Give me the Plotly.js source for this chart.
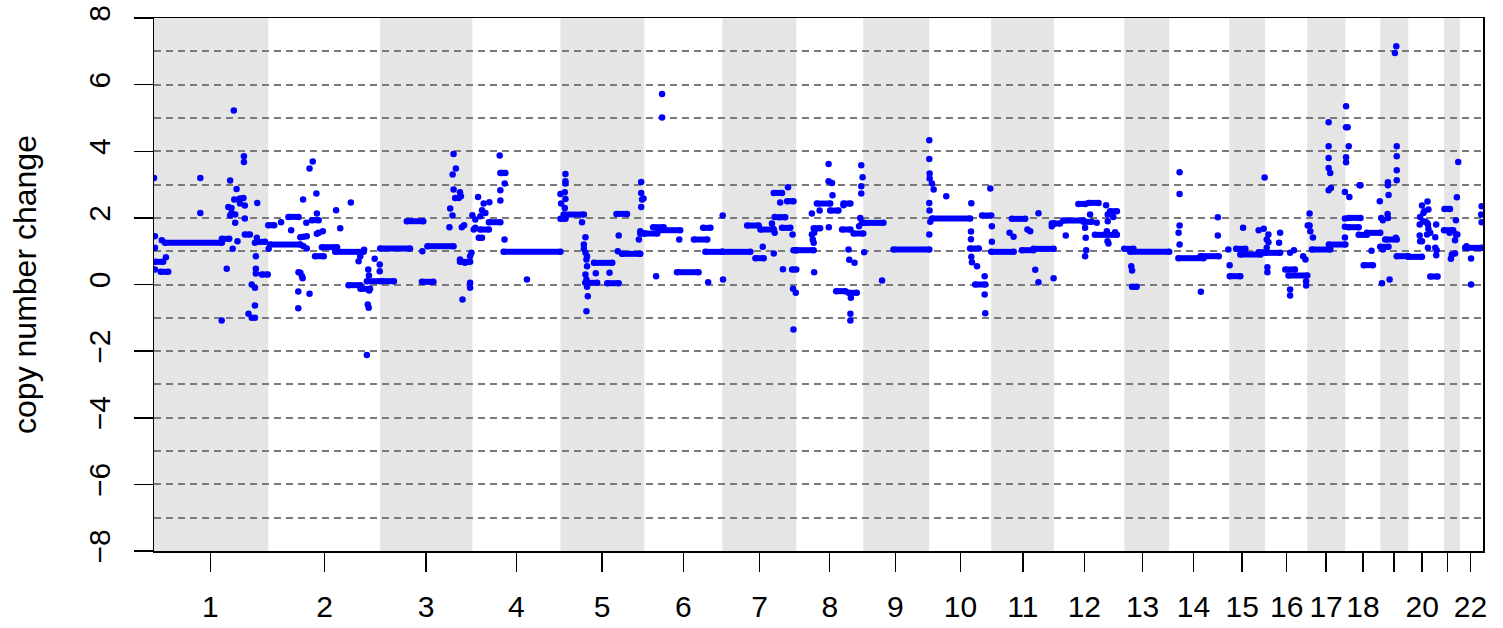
<!DOCTYPE html>
<html>
<head>
<meta charset="utf-8">
<script src="https://cdn.plot.ly/plotly-3.0.1.min.js"></script>
<style>html,body{margin:0;padding:0;background:#fff;}#chart{width:1503px;height:628px;}</style>
</head>
<body>
<div id="chart"></div>
<script>
// Chromosome lengths (Mb, probe span) and tick positions (Mb from chromosome start)
const chrLengths = [249,244,201,192,183,170,161,146,144,135,137,153,98,131,78,92,83,76,61,78,35,50];
const chrTickPos = [123,123,100,96,91,85,81,73,70,68,69,66,40,53,28,47,41,38.5,30.5,30.5,8,22.5];
const chrTickLabels = ['1','2','3','4','5','6','7','8','9','10','11','12','13','14','15','16','17','18','','20','','22'];

// Segments: [chromosome, start Mb, end Mb, copy number change]
const segments = [
 [1,2,20,0.68],[1,14.5,31,0.38],[1,24,148,1.25],[1,148,164,1.37],[1,198,209,1.5],[1,227,242,1.28],[1,235,248,0.3],
 [2,0,13,1.78],[2,4,70,1.2],[2,44,66,2.03],[2,95,110,1.93],[2,117,150,1.12],[2,102,121,0.85],[2,146,208,0.98],[2,175,201,-0.02],[2,201,222,-0.13],[2,215,244,0.1],
 [3,5,30,0.1],[3,0,65,1.08],[3,58,94,1.9],[3,91,116,0.08],[3,103,160,1.15],[3,174,196,0.68],
 [4,14,21,1.4],[4,17,36,1.65],[4,36,61,1.87],[4,61,72,3.35],[4,68,192,0.98],
 [5,0,11,1.97],[5,7,51,2.1],[5,54,80,0.05],[5,73,113,0.65],[5,102,127,0.04],[5,122,145,2.12],[5,134,174,0.92],[5,174,183,1.53],
 [6,0,28,1.53],[6,19,42,1.72],[6,31,78,1.63],[6,71,118,0.37],[6,108,137,1.35],[6,128,144,1.7],[6,133,170,0.98],
 [7,0,61,0.98],[7,54,79,1.77],[7,83,112,1.65],[7,72,90,0.79],[7,112,130,2.75],[7,141,155,2.5],[7,123,137,2.02],[7,130,148,1.7],[7,152,161,0.45],[7,155,161,1.03],
 [8,0,38,1.03],[8,45,74,2.43],[8,38,52,1.69],[8,74,92,2.22],[8,100,118,1.65],[8,103,118,2.43],[8,87,107,-0.2],[8,114,132,-0.25],[8,125,146,1.53],[8,143,146,1.85],
 [9,0,44,1.85],[9,66,144,1.05],
 [10,6,89,1.98],[10,89,108,1.08],[10,100,122,0.0],[10,115,135,2.07],
 [11,0,49,0.98],[11,45,74,1.97],[11,67,92,1.03],[11,92,136,1.07],[11,132,137,1.83],
 [12,0,13,1.83],[12,20,64,1.92],[12,64,82,1.88],[12,53,68,2.42],[12,75,97,2.45],[12,89,137,1.49],[12,122,137,2.2],
 [13,0,20,1.07],[13,13,98,0.98],[13,17,27,-0.07],
 [14,20,75,0.79],[14,68,108,0.85],
 [15,1,24,0.25],[15,15,35,1.07],[15,24,68,0.9],[15,64,78,0.97],
 [16,0,33,0.95],[16,44,65,0.45],[16,51,92,0.27],
 [17,10,50,1.05],[17,47,83,1.2],
 [18,7,33,2.0],[18,7,29,1.72],[18,29,47,1.49],[18,40,60,0.58],[18,47,76,1.55],
 [19,0,18,1.13],[19,11,36,1.35],[19,36,61,0.85],
 [20,0,30,0.83],[20,48,64,0.24],
 [21,1,13,2.27],[21,0,20,1.63],
 [22,11,47,1.1]
];

// Individual probes: [chromosome, position Mb, copy number change]
const points = [
 [1,0,3.2],[1,2,1.45],[1,2,1.1],[1,2,0.45],[1,17,1.33],[1,26,0.82],[1,101,3.2],[1,101,2.15],[1,147.5,-1.08],[1,158.5,0.47],[1,174,5.22],[1,166,3.12],[1,162,2.33],[1,169,2.3],[1,175,2.55],[1,180,2.87],[1,184,2.55],[1,187.5,2.58],[1,195,2.6],[1,187.5,2.43],[1,198,2.37],[1,169,2.15],[1,177,2.1],[1,166,2.07],[1,177,1.85],[1,198,1.98],[1,196,3.85],[1,196,3.68],[1,171.5,1.07],[1,182,1.3],[1,213,0.0],[1,220,-0.1],[1,220,-0.63],[1,206,-0.88],[1,213,-1.0],[1,220,-1.0],[1,225,2.45],[1,224,1.4],[1,220,1.25],[1,222,0.85],[1,222,0.47],[1,222,0.33],
 [2,1,1.07],[2,28,1.87],[2,50,1.63],[2,76,2.55],[2,90,3.48],[2,97,3.69],[2,105,2.73],[2,106,2.13],[2,83,1.85],[2,110,1.55],[2,119,1.6],[2,106,1.52],[2,70,1.42],[2,77,1.43],[2,84,1.45],[2,77,1.15],[2,84,1.08],[2,66,0.37],[2,70,0.35],[2,73.5,0.25],[2,75,0.19],[2,65.5,-0.21],[2,65.5,-0.71],[2,90,-0.28],[2,148,2.23],[2,157,1.69],[2,180,2.46],[2,209,1.04],[2,200.6,0.85],[2,197,0.7],[2,232,0.77],[2,218,0.45],[2,219.5,0.27],[2,243,0.6],[2,243,0.4],[2,220,-0.18],[2,217,-0.6],[2,219,-0.7],[2,215,-2.12],
 [3,92,1.0],[3,160,3.92],[3,165,3.48],[3,158,3.3],[3,160,2.85],[3,174,2.77],[3,176,2.65],[3,163.5,2.6],[3,171,2.6],[3,152.6,2.28],[3,157.7,2.07],[3,151,1.72],[3,178,1.72],[3,183,1.78],[3,196,0.05],[3,196,-0.1],[3,179.5,-0.45],[3,199,0.95],[3,196,0.85],[3,174,0.75],[3,185,0.65],
 [4,12.4,2.63],[4,37,2.47],[4,24.7,2.43],[4,21,2.23],[4,28.3,2.15],[4,17.4,2.05],[4,6.5,1.95],[4,0,2.08],[4,3,1.65],[4,6.5,1.7],[4,64.7,3.35],[4,59.6,3.87],[4,70.5,3.03],[4,61,2.83],[4,61,2.52],[4,70,1.35],[4,119,0.15],
 [5,10.9,3.32],[5,10.9,3.1],[5,10.9,3.03],[5,0,2.72],[5,9.5,2.77],[5,10.9,2.57],[5,1.5,2.43],[5,9.5,2.3],[5,47,1.87],[5,54.5,1.42],[5,51,1.2],[5,51,1.07],[5,54.5,0.95],[5,58,0.85],[5,56.7,0.75],[5,58,0.55],[5,54.5,0.3],[5,56.7,0.15],[5,58,-0.07],[5,59.6,-0.35],[5,56.7,-0.8],[5,77,0.34],[5,107,0.35],[5,127,1.47],[5,125,1.0],[5,176,3.08],[5,176,2.75],[5,178,2.55],[5,181,2.58],[5,176,2.33],[5,174,1.6],[5,171,1.35],
 [6,38.5,5.72],[6,38.5,5.01],[6,25.5,0.25],[6,76,1.35],[6,139,0.07],
 [7,0.7,2.07],[7,1.4,0.15],[7,108,1.83],[7,110.5,1.67],[7,114,1.55],[7,88,1.13],[7,112,0.93],[7,126,2.46],[7,143,2.92],[7,114,2.03],[7,153,1.5],[7,132,0.46],[7,154,-0.13],[7,160,-0.25],[7,155,-1.35],
 [8,39,0.37],[8,34,2.13],[8,51,2.22],[8,34,1.5],[8,36,1.35],[8,39,1.55],[8,41,1.65],[8,38,1.25],[8,70.5,3.62],[8,70.5,3.1],[8,78,3.05],[8,79,2.68],[8,71,1.72],[8,103,2.38],[8,114,1.05],[8,115.5,0.74],[8,127,0.65],[8,119,-0.4],[8,118,-0.88],[8,118,-1.08],[8,141.7,3.58],[8,144.6,3.22],[8,141.7,2.95],[8,141.7,2.73],[8,139.5,2.0],[8,137,1.75],
 [9,41,0.12],[9,2,0.97],
 [10,0,4.33],[10,0,3.77],[10,0.7,3.33],[10,0.7,3.18],[10,5.8,3.03],[10,9.5,2.85],[10,0,2.45],[10,0.5,2.22],[10,0,1.5],[10,2.2,1.88],[10,37,2.65],[10,91.6,2.44],[10,90.9,1.59],[10,90.9,1.36],[10,91.6,0.83],[10,93,0.67],[10,104,0.55],[10,120.7,0.25],[10,120.7,-0.3],[10,122,-0.86],[10,133,2.88],
 [11,1.4,1.75],[11,1.4,1.28],[11,40,1.55],[11,48.7,1.43],[11,79,1.65],[11,85,1.6],[11,96,0.44],[11,103,0.07],[11,103,2.14],[11,136,0.19],[11,132,1.75],
 [12,25.5,1.47],[12,78.5,2.1],[12,67.6,1.7],[12,69,1.4],[12,70,1.03],[12,67.6,0.85],[12,93,1.85],[12,113.4,2.38],[12,117,2.1],[12,117,1.9],[12,118.5,1.23],[12,116.5,1.3],[12,129,2.03],[12,133,1.57],[12,115,1.6],
 [13,15.3,0.55],[13,17,0.42],
 [14,22.6,3.37],[14,22.6,2.72],[14,22.6,1.77],[14,20.4,1.55],[14,22.6,1.2],[14,69,-0.22],[14,106,2.02],[14,106,1.47],[14,129,1.05],
 [15,0.7,0.58],[15,30,1.7],[15,64,1.63],[15,75,1.67],[15,77,3.21],
 [16,7.3,1.5],[16,3.6,1.35],[16,7.3,1.27],[16,3.6,1.1],[16,5,0.52],[16,5,0.37],[16,30.5,1.25],[16,32.7,1.55],[16,54.5,0.95],[16,63,1.03],[16,54.5,-0.15],[16,54.5,-0.33],[16,83,0.85],[16,88,0.75],[16,89.4,0.1],[16,89.4,-0.03],
 [17,5,2.13],[17,5,1.77],[17,6.5,1.6],[17,12.3,1.41],[17,1,1.77],[17,46.5,4.87],[17,46.5,4.15],[17,46.5,3.8],[17,46.5,3.5],[17,50,3.35],[17,46.5,2.83],[17,51.5,2.9],[17,82,2.78],[17,82,1.98],[17,82,1.73],[17,82,1.41],
 [18,1.5,5.35],[18,1.5,4.72],[18,5,4.72],[18,7.3,4.15],[18,1.5,3.82],[18,1.5,3.67],[18,8.7,2.63],[18,31,2.98],[18,33,2.98],[18,57,1.01],[18,75,2.5],
 [19,3.7,0.04],[19,20.4,0.15],[19,2.2,2.0],[19,5.8,1.93],[19,5.8,1.05],[19,16.7,3.07],[19,16.7,2.98],[19,18.2,2.69],[19,16,2.12],[19,16.7,2.0],[19,35,7.15],[19,32,6.95],[19,36,4.15],[19,36,3.85],[19,36,3.43],[19,36,3.13],[19,34,1.4],
 [20,30,2.37],[20,42,2.49],[20,44,2.25],[20,35,2.2],[20,26,2.03],[20,33,2.15],[20,25,1.8],[20,32,1.9],[20,37,1.88],[20,41,1.85],[20,43,1.8],[20,44,1.67],[20,48,1.55],[20,41,1.5],[20,61,1.8],[20,25,1.47],[20,26,1.3],[20,30,1.3],[20,43,1.1],[20,59,1.1],[20,62,1.03],[20,61,0.88],[20,59,1.42],
 [21,12,1.55],[21,26,1.5],[21,31,3.68],[21,28,2.62],[21,26,1.93],[21,29,1.5],[21,24,1.33],[21,17,0.9],[21,15,0.77],[21,24,0.93],
 [22,24,0.78],[22,24,0.0],[22,47,2.35],[22,46,2.1],[22,47,1.87],[22,14,1.15]
];

// Build cumulative offsets
const offsets = [];
let acc = 0;
chrLengths.forEach(l => { offsets.push(acc); acc += l; });
const genomeLen = acc;

const segX = [], segY = [];
segments.forEach(s => {
  const o = offsets[s[0]-1];
  segX.push(o + s[1], o + s[2], null);
  segY.push(s[3], s[3], null);
});
const ptX = points.map(p => offsets[p[0]-1] + p[1]);
const ptY = points.map(p => p[2]);

const tickVals = chrTickPos.map((t, i) => offsets[i] + t);

const shapes = [];
chrLengths.forEach((l, i) => {
  if (i % 2 === 0) {
    shapes.push({type:'rect', xref:'x', yref:'paper', x0:offsets[i], x1:offsets[i]+l, y0:0, y1:1,
      fillcolor:'#E5E5E5', line:{width:0}, layer:'below'});
  }
});

const blue = '#0000FF';
const traces = [
  {x:segX, y:segY, type:'scatter', mode:'lines+markers', line:{color:blue, width:6},
   marker:{color:blue, size:6.5}, connectgaps:false, hoverinfo:'skip', showlegend:false},
  {x:ptX, y:ptY, type:'scatter', mode:'markers', marker:{color:blue, size:6.5},
   hoverinfo:'skip', showlegend:false}
];

const font = {family:'"Liberation Sans", Arial, Helvetica, sans-serif', color:'#000'};
const gridStyle = {gridcolor:'#7a7a7a', griddash:'7px,5px', gridwidth:2};

const layout = {
  width:1503, height:628,
  margin:{l:154, r:20, t:18, b:77},
  paper_bgcolor:'#fff', plot_bgcolor:'#fff',
  font: Object.assign({size:30}, font),
  showlegend:false,
  xaxis:{
    range:[0, genomeLen], autorange:false,
    showgrid:false, zeroline:false,
    showline:true, mirror:true, linecolor:'#000', linewidth:1.5,
    ticks:'outside', ticklen:19, tickwidth:1.5, tickcolor:'#000',
    tickmode:'array', tickvals:tickVals, ticktext:chrTickLabels,
    tickfont:Object.assign({size:30}, font), tickangle:0,
    ticklabelstandoff:9
  },
  yaxis:Object.assign({
    range:[-8, 8], autorange:false,
    showgrid:true, zeroline:false,
    showline:true, mirror:true, linecolor:'#000', linewidth:1.5,
    ticks:'outside', ticklen:19, tickwidth:1.5, tickcolor:'#000',
    tickmode:'linear', tick0:-8, dtick:2,
    tickangle:-90, tickfont:Object.assign({size:30}, font),
    ticklabelstandoff:12,
    minor:Object.assign({dtick:1, tick0:0, showgrid:true, ticks:''}, gridStyle),
    title:{text:'copy number change', font:Object.assign({size:32}, font), standoff:36}
  }, gridStyle),
  shapes:shapes
};

Plotly.newPlot('chart', traces, layout, {staticPlot:true, displayModeBar:false});
</script>
</body>
</html>
